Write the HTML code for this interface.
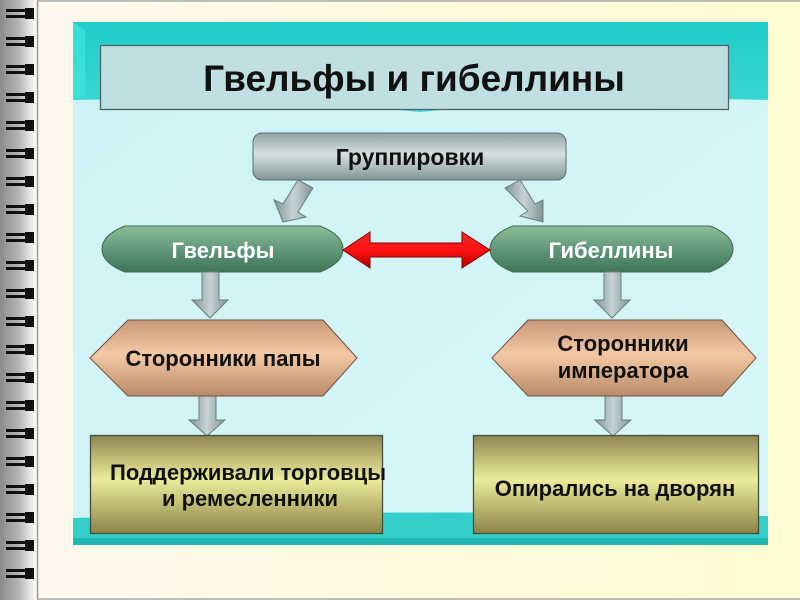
<!DOCTYPE html>
<html><head><meta charset="utf-8"><style>
html,body{margin:0;padding:0;width:800px;height:600px;overflow:hidden;background:#fff}
svg{display:block}
text{font-family:"Liberation Sans",sans-serif;font-weight:bold}
</style></head><body>
<svg width="800" height="600" viewBox="0 0 800 600" xmlns="http://www.w3.org/2000/svg">
<defs>
<linearGradient id="strip" x1="0" x2="1"><stop offset="0" stop-color="#8a8a8a"/><stop offset="0.5" stop-color="#b5b5b5"/><stop offset="1" stop-color="#fff"/></linearGradient>
<linearGradient id="paper" x1="0" x2="1"><stop offset="0" stop-color="#fdf8ec"/><stop offset="1" stop-color="#fdfbd0"/></linearGradient>
<linearGradient id="sky" x1="0" y1="0" x2="1" y2="1"><stop offset="0" stop-color="#cdf3f6"/><stop offset="1" stop-color="#d8f6f7"/></linearGradient>
<linearGradient id="teal" x1="0" y1="0" x2="0" y2="1"><stop offset="0" stop-color="#20ccc8"/><stop offset="1" stop-color="#3dd8d4"/></linearGradient>
<linearGradient id="grey" x1="0" y1="0" x2="0" y2="1"><stop offset="0" stop-color="#8fa3a5"/><stop offset="0.45" stop-color="#d6e0e0"/><stop offset="1" stop-color="#7f9597"/></linearGradient>
<linearGradient id="green" x1="0" y1="0" x2="0" y2="1"><stop offset="0" stop-color="#8dbf96"/><stop offset="0.5" stop-color="#62987a"/><stop offset="1" stop-color="#3e7656"/></linearGradient>
<linearGradient id="tan" x1="0" y1="0" x2="0" y2="1"><stop offset="0" stop-color="#c89878"/><stop offset="0.45" stop-color="#f3c9a3"/><stop offset="1" stop-color="#b98a6a"/></linearGradient>
<linearGradient id="olive" x1="0" y1="0" x2="0" y2="1"><stop offset="0" stop-color="#8f8650"/><stop offset="0.45" stop-color="#ecec9a"/><stop offset="1" stop-color="#8b8348"/></linearGradient>
<linearGradient id="arr" x1="0" x2="1"><stop offset="0" stop-color="#7f9395"/><stop offset="0.5" stop-color="#c7d3d4"/><stop offset="1" stop-color="#7f9395"/></linearGradient>
<linearGradient id="red" x1="0" y1="0" x2="0" y2="1"><stop offset="0" stop-color="#e83030"/><stop offset="0.5" stop-color="#ff1010"/><stop offset="1" stop-color="#b00000"/></linearGradient>
</defs>
<rect x="0" y="0" width="37" height="600" fill="url(#strip)"/>
<rect x="37" y="0" width="763" height="600" fill="url(#paper)"/>
<line x1="37.5" y1="0" x2="37.5" y2="600" stroke="#9a9a9a" stroke-width="1.5"/>
<line x1="37" y1="1" x2="800" y2="1" stroke="#aaa" stroke-width="1.5"/>
<line x1="37" y1="599" x2="800" y2="599" stroke="#aaa" stroke-width="1.5"/>
<g id="rings"></g>
<rect x="73" y="22" width="695" height="523" fill="url(#sky)"/>
<path d="M73 22 H768 V100 Q600 95 420 112 Q250 96 73 100 Z" fill="url(#teal)"/>
<path d="M73 22 L85 30 V95 L73 100 Z" fill="#3fe5e0" opacity="0.7"/>
<path d="M73 518 Q400 508 768 516 V545 H73 Z" fill="#34cfcb"/>
<rect x="73" y="538" width="695" height="7" fill="#23b5b2"/>
<rect x="100.5" y="45.5" width="628" height="64" fill="#bfdfe3" stroke="#4d6466" stroke-width="1.3"/>
<text x="414" y="91" font-size="37" text-anchor="middle" fill="#111">Гвельфы и гибеллины</text>
<rect x="253" y="133" width="313" height="47" rx="9" fill="url(#grey)" stroke="#5a6d6e"/>
<text x="410" y="165" font-size="23" text-anchor="middle" fill="#111">Группировки</text>
<polygon points="298,180 313,188 298,212 306,217 283,222 274,200 283,204" fill="url(#arr)" stroke="#6a7c7e"/>
<polygon points="505,188 520,180 535,204 543,200 543,222 520,216 528,211" fill="url(#arr)" stroke="#6a7c7e"/>
<path d="M125 226 H320 Q343 235 343 249 Q343 263 320 272 H125 Q102 263 102 249 Q102 235 125 226 Z" fill="url(#green)" stroke="#3d6a50"/>
<text x="223" y="258" font-size="22" text-anchor="middle" fill="#fff">Гвельфы</text>
<path d="M513 226 H710 Q733 235 733 249 Q733 263 710 272 H513 Q490 263 490 249 Q490 235 513 226 Z" fill="url(#green)" stroke="#3d6a50"/>
<text x="611" y="258" font-size="22" text-anchor="middle" fill="#fff">Гибеллины</text>
<polygon points="343,250 370,232 370,243 462,243 462,232 490,250 462,268 462,257 370,257 370,268" fill="url(#red)" stroke="#8a0000"/>
<g fill="url(#arr)" stroke="#6a7c7e">
<polygon points="202,272 219,272 219,300 228,300 210,318 192,300 202,300"/>
<polygon points="604,272 621,272 621,300 630,300 612,318 594,300 604,300"/>
<polygon points="199,396 216,396 216,420 225,420 207,436 189,420 199,420"/>
<polygon points="605,396 622,396 622,420 631,420 613,436 595,420 605,420"/>
</g>
<polygon points="90,358 128,320 323,320 357,358 323,396 128,396" fill="url(#tan)" stroke="#6c5040"/>
<text x="223" y="366" font-size="22" text-anchor="middle" fill="#111">Сторонники папы</text>
<polygon points="492,358 528,320 722,320 756,358 722,396 528,396" fill="url(#tan)" stroke="#6c5040"/>
<text x="623" y="351" font-size="22" text-anchor="middle" fill="#111">Сторонники</text>
<text x="623" y="378" font-size="22" text-anchor="middle" fill="#111">императора</text>
<rect x="90.5" y="435.5" width="292" height="98" fill="url(#olive)" stroke="#44503e" stroke-width="1.3"/>
<text x="248" y="480" font-size="22" text-anchor="middle" fill="#111">Поддерживали торговцы</text>
<text x="250" y="506" font-size="22" text-anchor="middle" fill="#111">и ремесленники</text>
<rect x="473.5" y="435.5" width="285" height="98" fill="url(#olive)" stroke="#44503e" stroke-width="1.3"/>
<text x="615" y="496" font-size="22" text-anchor="middle" fill="#111">Опирались на дворян</text>
</svg>
<script>
var g=document.getElementById('rings'),s='';
for(var y=13;y<600;y+=28){s+='<rect x="6" y="'+(y-4)+'" width="24" height="3" fill="#111"/><rect x="6" y="'+(y+2)+'" width="24" height="3" fill="#111"/><rect x="25" y="'+(y-5)+'" width="9" height="11" fill="#111"/>';}
g.innerHTML=s;
</script>
</body></html>
